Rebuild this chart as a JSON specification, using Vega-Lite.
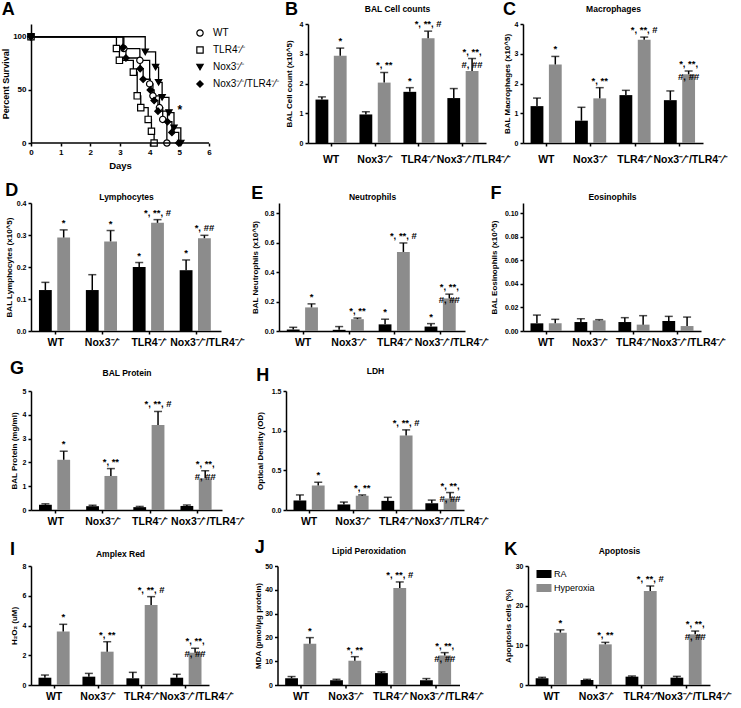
{
"$schema":"https://vega.github.io/schema/vega-lite/v6.json",
"padding":{"left":1,"top":1,"right":0,"bottom":0},
"background":"white",
"config":{
 "font":"Liberation Sans",
 "view":{"stroke":null},
 "title":{"fontSize":18,"fontWeight":"bold","anchor":"start","frame":"bounds","color":"#000","font":"Liberation Sans"},
 "axis":{"grid":false,"domainColor":"#000","domainWidth":1.5,"tickColor":"#000","tickWidth":1.5,"tickSize":3,"labelColor":"#000","titleColor":"#000","labelFontWeight":"bold","titleFontWeight":"bold","labelFont":"Liberation Sans","titleFont":"Liberation Sans","labelOverlap":false},
 "axisY":{"labelFontSize":7,"titleFontSize":8,"labelPadding":2,"labelOverlap":false},
 "legend":{"labelFont":"Liberation Sans","labelColor":"#000"}
},
"datasets":{
 "surv":[
  {"g":"WT","d":0,"s":100},{"g":"WT","d":3.13,"s":88.9},{"g":"WT","d":3.67,"s":77.8},{"g":"WT","d":4.0,"s":55.6},{"g":"WT","d":4.11,"s":44.4},{"g":"WT","d":4.33,"s":33.3},{"g":"WT","d":4.44,"s":22.2},{"g":"WT","d":4.58,"s":0},
  {"g":"T","d":0,"s":100},{"g":"T","d":2.88,"s":88.9},{"g":"T","d":2.98,"s":77.8},{"g":"T","d":3.45,"s":66.7},{"g":"T","d":3.58,"s":44.4},{"g":"T","d":3.7,"s":33.3},{"g":"T","d":3.95,"s":22.2},{"g":"T","d":4.06,"s":11.1},{"g":"T","d":4.15,"s":0},
  {"g":"N","d":0,"s":100},{"g":"N","d":3.85,"s":85.7},{"g":"N","d":4.2,"s":71.4},{"g":"N","d":4.3,"s":57.1},{"g":"N","d":4.42,"s":42.9},{"g":"N","d":4.65,"s":28.6},{"g":"N","d":4.82,"s":14.3},{"g":"N","d":5.05,"s":0},
  {"g":"NT","d":0,"s":100},{"g":"NT","d":3.1,"s":90},{"g":"NT","d":3.2,"s":80},{"g":"NT","d":3.68,"s":70},{"g":"NT","d":3.78,"s":60},{"g":"NT","d":4.02,"s":50},{"g":"NT","d":4.15,"s":40},{"g":"NT","d":4.28,"s":30},{"g":"NT","d":4.6,"s":20},{"g":"NT","d":4.75,"s":10},{"g":"NT","d":4.98,"s":0}
 ],
 "bars":[
  {"p":"B","g":"WT","c":"RA","m":1.46,"hi":1.55,"lab":""},{"p":"B","g":"WT","c":"Hyperoxia","m":2.93,"hi":3.19,"lab":"*"},
  {"p":"B","g":"N","c":"RA","m":0.96,"hi":1.05,"lab":""},{"p":"B","g":"N","c":"Hyperoxia","m":2.03,"hi":2.37,"lab":"*, **"},
  {"p":"B","g":"T","c":"RA","m":1.72,"hi":1.86,"lab":"*"},{"p":"B","g":"T","c":"Hyperoxia","m":3.52,"hi":3.76,"lab":"*, **, #"},
  {"p":"B","g":"NT","c":"RA","m":1.51,"hi":1.83,"lab":""},{"p":"B","g":"NT","c":"Hyperoxia","m":2.42,"hi":2.84,"lab":"*, **,\n#, ##"},
  {"p":"C","g":"WT","c":"RA","m":1.24,"hi":1.51,"lab":""},{"p":"C","g":"WT","c":"Hyperoxia","m":2.64,"hi":2.91,"lab":"*"},
  {"p":"C","g":"N","c":"RA","m":0.75,"hi":1.2,"lab":""},{"p":"C","g":"N","c":"Hyperoxia","m":1.5,"hi":1.86,"lab":"*, **"},
  {"p":"C","g":"T","c":"RA","m":1.61,"hi":1.77,"lab":""},{"p":"C","g":"T","c":"Hyperoxia","m":3.47,"hi":3.56,"lab":"*, **, #"},
  {"p":"C","g":"NT","c":"RA","m":1.44,"hi":1.75,"lab":""},{"p":"C","g":"NT","c":"Hyperoxia","m":2.31,"hi":2.42,"lab":"*, **,\n#, ##"},
  {"p":"D","g":"WT","c":"RA","m":0.128,"hi":0.152,"lab":""},{"p":"D","g":"WT","c":"Hyperoxia","m":0.292,"hi":0.316,"lab":"*"},
  {"p":"D","g":"N","c":"RA","m":0.128,"hi":0.176,"lab":""},{"p":"D","g":"N","c":"Hyperoxia","m":0.28,"hi":0.314,"lab":"*"},
  {"p":"D","g":"T","c":"RA","m":0.2,"hi":0.214,"lab":"*"},{"p":"D","g":"T","c":"Hyperoxia","m":0.338,"hi":0.348,"lab":"*, **, #"},
  {"p":"D","g":"NT","c":"RA","m":0.19,"hi":0.222,"lab":"*"},{"p":"D","g":"NT","c":"Hyperoxia","m":0.29,"hi":0.299,"lab":"*,   ##"},
  {"p":"E","g":"WT","c":"RA","m":0.01,"hi":0.025,"lab":""},{"p":"E","g":"WT","c":"Hyperoxia","m":0.16,"hi":0.184,"lab":"*"},
  {"p":"E","g":"N","c":"RA","m":0.008,"hi":0.03,"lab":""},{"p":"E","g":"N","c":"Hyperoxia","m":0.08,"hi":0.088,"lab":"*, **"},
  {"p":"E","g":"T","c":"RA","m":0.045,"hi":0.08,"lab":"*"},{"p":"E","g":"T","c":"Hyperoxia","m":0.536,"hi":0.597,"lab":"*, **, #"},
  {"p":"E","g":"NT","c":"RA","m":0.03,"hi":0.05,"lab":"*"},{"p":"E","g":"NT","c":"Hyperoxia","m":0.221,"hi":0.25,"lab":"*, **,\n#, ##"},
  {"p":"F","g":"WT","c":"RA","m":0.0065,"hi":0.0135,"lab":""},{"p":"F","g":"WT","c":"Hyperoxia","m":0.0065,"hi":0.0099,"lab":""},
  {"p":"F","g":"N","c":"RA","m":0.0076,"hi":0.0104,"lab":""},{"p":"F","g":"N","c":"Hyperoxia","m":0.009,"hi":0.0096,"lab":""},
  {"p":"F","g":"T","c":"RA","m":0.0076,"hi":0.0113,"lab":""},{"p":"F","g":"T","c":"Hyperoxia","m":0.0054,"hi":0.013,"lab":""},
  {"p":"F","g":"NT","c":"RA","m":0.0085,"hi":0.0124,"lab":""},{"p":"F","g":"NT","c":"Hyperoxia","m":0.0042,"hi":0.0118,"lab":""},
  {"p":"G","g":"WT","c":"RA","m":0.22,"hi":0.26,"lab":""},{"p":"G","g":"WT","c":"Hyperoxia","m":2.11,"hi":2.47,"lab":"*"},
  {"p":"G","g":"N","c":"RA","m":0.16,"hi":0.2,"lab":""},{"p":"G","g":"N","c":"Hyperoxia","m":1.43,"hi":1.74,"lab":"*, **"},
  {"p":"G","g":"T","c":"RA","m":0.12,"hi":0.15,"lab":""},{"p":"G","g":"T","c":"Hyperoxia","m":3.57,"hi":4.14,"lab":"*, **, #"},
  {"p":"G","g":"NT","c":"RA","m":0.17,"hi":0.21,"lab":""},{"p":"G","g":"NT","c":"Hyperoxia","m":1.33,"hi":1.65,"lab":"*, **,\n#, ##"},
  {"p":"H","g":"WT","c":"RA","m":0.12,"hi":0.19,"lab":""},{"p":"H","g":"WT","c":"Hyperoxia","m":0.31,"hi":0.35,"lab":"*"},
  {"p":"H","g":"N","c":"RA","m":0.07,"hi":0.1,"lab":""},{"p":"H","g":"N","c":"Hyperoxia","m":0.18,"hi":0.19,"lab":"*, **"},
  {"p":"H","g":"T","c":"RA","m":0.115,"hi":0.16,"lab":""},{"p":"H","g":"T","c":"Hyperoxia","m":0.94,"hi":1.01,"lab":"*, **, #"},
  {"p":"H","g":"NT","c":"RA","m":0.085,"hi":0.125,"lab":""},{"p":"H","g":"NT","c":"Hyperoxia","m":0.145,"hi":0.22,"lab":"*, **,\n#, ##"},
  {"p":"I","g":"WT","c":"RA","m":0.49,"hi":0.67,"lab":""},{"p":"I","g":"WT","c":"Hyperoxia","m":3.59,"hi":4.08,"lab":"*"},
  {"p":"I","g":"N","c":"RA","m":0.56,"hi":0.78,"lab":""},{"p":"I","g":"N","c":"Hyperoxia","m":2.24,"hi":2.91,"lab":"*, **"},
  {"p":"I","g":"T","c":"RA","m":0.45,"hi":0.85,"lab":""},{"p":"I","g":"T","c":"Hyperoxia","m":5.38,"hi":5.94,"lab":"*, **, #"},
  {"p":"I","g":"NT","c":"RA","m":0.49,"hi":0.72,"lab":""},{"p":"I","g":"NT","c":"Hyperoxia","m":2.17,"hi":2.47,"lab":"*, **,\n#, ##"},
  {"p":"J","g":"WT","c":"RA","m":2.84,"hi":3.55,"lab":""},{"p":"J","g":"WT","c":"Hyperoxia","m":17.3,"hi":19.9,"lab":"*"},
  {"p":"J","g":"N","c":"RA","m":2.0,"hi":2.4,"lab":""},{"p":"J","g":"N","c":"Hyperoxia","m":10.2,"hi":11.9,"lab":"*, **"},
  {"p":"J","g":"T","c":"RA","m":5.0,"hi":5.5,"lab":""},{"p":"J","g":"T","c":"Hyperoxia","m":40.8,"hi":43.3,"lab":"*, **, #"},
  {"p":"J","g":"NT","c":"RA","m":2.0,"hi":2.7,"lab":""},{"p":"J","g":"NT","c":"Hyperoxia","m":12.4,"hi":13.6,"lab":"*, **,\n#, ##"},
  {"p":"K","g":"WT","c":"RA","m":1.68,"hi":1.93,"lab":""},{"p":"K","g":"WT","c":"Hyperoxia","m":13.2,"hi":13.9,"lab":"*"},
  {"p":"K","g":"N","c":"RA","m":1.26,"hi":1.43,"lab":""},{"p":"K","g":"N","c":"Hyperoxia","m":10.25,"hi":10.75,"lab":"*, **"},
  {"p":"K","g":"T","c":"RA","m":2.1,"hi":2.27,"lab":""},{"p":"K","g":"T","c":"Hyperoxia","m":23.7,"hi":24.96,"lab":"*, **, #"},
  {"p":"K","g":"NT","c":"RA","m":1.85,"hi":2.18,"lab":""},{"p":"K","g":"NT","c":"Hyperoxia","m":12.77,"hi":13.6,"lab":"*, **,\n#, ##"}
 ]
},
"columns":1,
"align":"none",
"bounds":"full",
"spacing":12,
"resolve":{"scale":{"color":"independent","shape":"independent","fill":"independent","stroke":"independent"}},
"concat":[
 {"hconcat":[
  {"width":240,"height":119,"title":{"text":"A","offset":5},
   "layer":[
    {"data":{"name":"surv"},"mark":{"type":"line","interpolate":"step-after","color":"#000","strokeWidth":1.3},
     "encoding":{"x":{"field":"d","type":"quantitative","title":"Days","scale":{"domain":[0,8.09],"nice":false},"axis":{"title":"Days","values":[0,1,2,3,4,5,6],"domain":false,"titleX":89,"labelFontSize":8,"titleFontSize":9.5,"labelPadding":2,"titlePadding":4,"labelOverlap":false,"labelFlush":false}},
      "y":{"field":"s","type":"quantitative","title":"Percent Survival","scale":{"domain":[0,112],"nice":false},"axis":{"title":"Percent Survival","values":[0,50,100],"labelFontSize":8,"titleFontSize":9,"titlePadding":2,"labelOverlap":false,"labelFlush":false}},
      "detail":{"field":"g"}}},
    {"data":{"name":"surv"},"mark":{"type":"point","strokeWidth":1.2,"size":40,"opacity":1},
     "encoding":{"x":{"field":"d","type":"quantitative","title":"Days","axis":{"title":"Days","values":[0,1,2,3,4,5,6],"domain":false,"titleX":89,"labelFontSize":8,"titleFontSize":9.5,"labelPadding":2,"titlePadding":4,"labelOverlap":false,"labelFlush":false}},
      "y":{"field":"s","type":"quantitative","title":"Percent Survival","axis":{"title":"Percent Survival","values":[0,50,100],"labelFontSize":8,"titleFontSize":9,"titlePadding":2,"labelOverlap":false,"labelFlush":false}},
      "shape":{"field":"g","type":"nominal","scale":{"domain":["WT","T","N","NT"],"range":["circle","square","triangle-down","diamond"]},"legend":{"orient":"none","legendX":164,"legendY":4,"title":null,"labelExpr":"datum.value == 'N' ? 'Nox3⁻⁄⁻' : datum.value == 'T' ? 'TLR4⁻⁄⁻' : datum.value == 'NT' ? 'Nox3⁻⁄⁻/TLR4⁻⁄⁻' : 'WT'","labelFontSize":10,"labelFontWeight":"normal","rowPadding":5,"labelOffset":8,"padding":0,"symbolStrokeWidth":1.2,"symbolSize":40}},
      "fill":{"field":"g","type":"nominal","scale":{"domain":["WT","T","N","NT"],"range":["#ffffff","#ffffff","#000000","#000000"]},"legend":{"orient":"none","legendX":164,"legendY":4,"title":null,"labelExpr":"datum.value == 'N' ? 'Nox3⁻⁄⁻' : datum.value == 'T' ? 'TLR4⁻⁄⁻' : datum.value == 'NT' ? 'Nox3⁻⁄⁻/TLR4⁻⁄⁻' : 'WT'","labelFontSize":10,"labelFontWeight":"normal","rowPadding":5,"labelOffset":8,"padding":0,"symbolStrokeWidth":1.2,"symbolSize":40}},
      "stroke":{"field":"g","type":"nominal","scale":{"domain":["WT","T","N","NT"],"range":["#000000","#000000","#000000","#000000"]},"legend":{"orient":"none","legendX":164,"legendY":4,"title":null,"labelExpr":"datum.value == 'N' ? 'Nox3⁻⁄⁻' : datum.value == 'T' ? 'TLR4⁻⁄⁻' : datum.value == 'NT' ? 'Nox3⁻⁄⁻/TLR4⁻⁄⁻' : 'WT'","labelFontSize":10,"labelFontWeight":"normal","rowPadding":5,"labelOffset":8,"padding":0,"symbolStrokeWidth":1.2,"symbolSize":40}}}},
    {"data":{"values":[{"a":0,"b":6,"z":0}]},"mark":{"type":"rule","color":"#000","strokeWidth":1.5},
     "encoding":{"x":{"field":"a","type":"quantitative","title":"Days","axis":{"title":"Days","values":[0,1,2,3,4,5,6],"domain":false,"titleX":89,"labelFontSize":8,"titleFontSize":9.5,"labelPadding":2,"titlePadding":4,"labelOverlap":false,"labelFlush":false}},"x2":{"field":"b"},
      "y":{"field":"z","type":"quantitative","title":"Percent Survival","axis":{"title":"Percent Survival","values":[0,50,100],"labelFontSize":8,"titleFontSize":9,"titlePadding":2,"labelOverlap":false,"labelFlush":false}}}},
    {"data":{"values":[{"d":5.02,"s":31,"t":"*"}]},"mark":{"type":"text","fontSize":12,"fontWeight":"bold","color":"#000"},
     "encoding":{"x":{"field":"d","type":"quantitative","title":"Days","axis":{"title":"Days","values":[0,1,2,3,4,5,6],"domain":false,"titleX":89,"labelFontSize":8,"titleFontSize":9.5,"labelPadding":2,"titlePadding":4,"labelOverlap":false,"labelFlush":false}},
      "y":{"field":"s","type":"quantitative","title":"Percent Survival","axis":{"title":"Percent Survival","values":[0,50,100],"labelFontSize":8,"titleFontSize":9,"titlePadding":2,"labelOverlap":false,"labelFlush":false}},"text":{"field":"t"}}}
   ]},
  {"width":178,"height":119,"title":{"text":"B","offset":-15},"data":{"name":"bars"},"transform":[{"filter":"datum.p == 'B'"}],"resolve":{"axis":{"x":"independent"}},
   "encoding":{"xOffset":{"field":"c","type":"nominal","sort":["RA","Hyperoxia"],"scale":{"paddingInner":0.3,"paddingOuter":0.05}}},
   "layer":[
    {"mark":{"type":"bar"},"encoding":{"x":{"field":"g","type":"nominal","sort":["WT","N","T","NT"],"scale":{"paddingInner":0.25,"paddingOuter":0.15},"axis":{"title":null,"labelExpr":"datum.value == 'N' ? 'Nox3⁻⁄⁻' : datum.value == 'T' ? 'TLR4⁻⁄⁻' : datum.value == 'NT' ? 'Nox3⁻⁄⁻/TLR4⁻⁄⁻' : 'WT'","labelOffset":{"condition":{"test":"datum.value == 'NT'","value":11},"value":0},"labelAngle":0,"labelFontSize":10.5,"labelPadding":8,"labelLimit":0,"labelOverlap":false}},
     "y":{"field":"m","type":"quantitative","title":"BAL Cell count (x10^5)","scale":{"domain":[0,4],"nice":false},"axis":{"values":[0,1,2,3,4],"titlePadding":6,"labelOverlap":false,"labelFlush":false}},
     "color":{"field":"c","type":"nominal","scale":{"domain":["RA","Hyperoxia"],"range":["#000000","#8c8c8c"]},"legend":null}}},
    {"mark":{"type":"rule","color":"#000","strokeWidth":1.5},"encoding":{"x":{"field":"g","type":"nominal","sort":["WT","N","T","NT"],"axis":null},"y":{"field":"m","type":"quantitative","title":"BAL Cell count (x10^5)","axis":{"values":[0,1,2,3,4],"titlePadding":6,"labelOverlap":false,"labelFlush":false}},"y2":{"field":"hi"}}},
    {"mark":{"type":"tick","color":"#000","thickness":1.5,"size":8},"encoding":{"x":{"field":"g","type":"nominal","sort":["WT","N","T","NT"],"axis":null},"y":{"field":"hi","type":"quantitative","title":"BAL Cell count (x10^5)","axis":{"values":[0,1,2,3,4],"titlePadding":6,"labelOverlap":false,"labelFlush":false}}}},
    {"transform":[{"filter":"datum.lab != ''"}],"mark":{"type":"text","fontSize":9.5,"fontWeight":"bold","baseline":"bottom","dy":-2,"lineBreak":"\n","lineHeight":13,"color":"#000"},
     "encoding":{"x":{"field":"g","type":"nominal","sort":["WT","N","T","NT"],"axis":{"orient":"top","title":"BAL Cell counts","labels":false,"ticks":false,"domain":false,"titlePadding":11,"titleFontSize":8.5}},"y":{"field":"hi","type":"quantitative","title":"BAL Cell count (x10^5)","axis":{"values":[0,1,2,3,4],"titlePadding":6,"labelOverlap":false,"labelFlush":false}},"text":{"field":"lab"}}}
   ]},
  {"width":180,"height":119,"title":{"text":"C","offset":-15},"data":{"name":"bars"},"transform":[{"filter":"datum.p == 'C'"}],"resolve":{"axis":{"x":"independent"}},
   "encoding":{"xOffset":{"field":"c","type":"nominal","sort":["RA","Hyperoxia"],"scale":{"paddingInner":0.3,"paddingOuter":0.05}}},
   "layer":[
    {"mark":{"type":"bar"},"encoding":{"x":{"field":"g","type":"nominal","sort":["WT","N","T","NT"],"scale":{"paddingInner":0.25,"paddingOuter":0.15},"axis":{"title":null,"labelExpr":"datum.value == 'N' ? 'Nox3⁻⁄⁻' : datum.value == 'T' ? 'TLR4⁻⁄⁻' : datum.value == 'NT' ? 'Nox3⁻⁄⁻/TLR4⁻⁄⁻' : 'WT'","labelOffset":{"condition":{"test":"datum.value == 'NT'","value":11},"value":0},"labelAngle":0,"labelFontSize":10.5,"labelPadding":8,"labelLimit":0,"labelOverlap":false}},
     "y":{"field":"m","type":"quantitative","title":"BAL Macrophages (x10^5)","scale":{"domain":[0,4],"nice":false},"axis":{"values":[0,1,2,3,4],"titlePadding":3,"labelOverlap":false,"labelFlush":false}},
     "color":{"field":"c","type":"nominal","scale":{"domain":["RA","Hyperoxia"],"range":["#000000","#8c8c8c"]},"legend":null}}},
    {"mark":{"type":"rule","color":"#000","strokeWidth":1.5},"encoding":{"x":{"field":"g","type":"nominal","sort":["WT","N","T","NT"],"axis":null},"y":{"field":"m","type":"quantitative","title":"BAL Macrophages (x10^5)","axis":{"values":[0,1,2,3,4],"titlePadding":3,"labelOverlap":false,"labelFlush":false}},"y2":{"field":"hi"}}},
    {"mark":{"type":"tick","color":"#000","thickness":1.5,"size":8},"encoding":{"x":{"field":"g","type":"nominal","sort":["WT","N","T","NT"],"axis":null},"y":{"field":"hi","type":"quantitative","title":"BAL Macrophages (x10^5)","axis":{"values":[0,1,2,3,4],"titlePadding":3,"labelOverlap":false,"labelFlush":false}}}},
    {"transform":[{"filter":"datum.lab != ''"}],"mark":{"type":"text","fontSize":9.5,"fontWeight":"bold","baseline":"bottom","dy":-2,"lineBreak":"\n","lineHeight":13,"color":"#000"},
     "encoding":{"x":{"field":"g","type":"nominal","sort":["WT","N","T","NT"],"axis":{"orient":"top","title":"Macrophages","labels":false,"ticks":false,"domain":false,"titlePadding":11,"titleFontSize":8.5}},"y":{"field":"hi","type":"quantitative","title":"BAL Macrophages (x10^5)","axis":{"values":[0,1,2,3,4],"titlePadding":3,"labelOverlap":false,"labelFlush":false}},"text":{"field":"lab"}}}
   ]}
 ],"spacing":37,"bounds":"flush","resolve":{"scale":{"color":"independent","shape":"independent","fill":"independent","stroke":"independent"}}},
  {"hconcat":[
   {"width":190,"height":128,"title":{"text":"D","offset":-8},"data":{"name":"bars"},"transform":[{"filter":"datum.p == 'D'"}],"resolve":{"axis":{"x":"independent"}},
    "encoding":{"xOffset":{"field":"c","type":"nominal","sort":["RA","Hyperoxia"],"scale":{"paddingInner":0.3,"paddingOuter":0.05}}},
    "layer":[
     {"mark":{"type":"bar"},"encoding":{"x":{"field":"g","type":"nominal","sort":["WT","N","T","NT"],"scale":{"paddingInner":0.25,"paddingOuter":0.15},"axis":{"title":null,"labelExpr":"datum.value == 'N' ? 'Nox3⁻⁄⁻' : datum.value == 'T' ? 'TLR4⁻⁄⁻' : datum.value == 'NT' ? 'Nox3⁻⁄⁻/TLR4⁻⁄⁻' : 'WT'","labelOffset":{"condition":{"test":"datum.value == 'NT'","value":11},"value":0},"labelAngle":0,"labelFontSize":10.5,"labelPadding":3,"labelLimit":0,"labelOverlap":false}},
      "y":{"field":"m","type":"quantitative","title":"BAL Lymphocytes (x10^5)","scale":{"domain":[0,0.4],"nice":false},"axis":{"values":[0,0.1,0.2,0.3,0.4],"format":".1f","titlePadding":3,"labelOverlap":false,"labelFlush":false}},
      "color":{"field":"c","type":"nominal","scale":{"domain":["RA","Hyperoxia"],"range":["#000000","#8c8c8c"]},"legend":null}}},
     {"mark":{"type":"rule","color":"#000","strokeWidth":1.5},"encoding":{"x":{"field":"g","type":"nominal","sort":["WT","N","T","NT"],"axis":null},"y":{"field":"m","type":"quantitative","title":"BAL Lymphocytes (x10^5)","axis":{"values":[0,0.1,0.2,0.3,0.4],"format":".1f","titlePadding":3,"labelOverlap":false,"labelFlush":false}},"y2":{"field":"hi"}}},
     {"mark":{"type":"tick","color":"#000","thickness":1.5,"size":8},"encoding":{"x":{"field":"g","type":"nominal","sort":["WT","N","T","NT"],"axis":null},"y":{"field":"hi","type":"quantitative","title":"BAL Lymphocytes (x10^5)","axis":{"values":[0,0.1,0.2,0.3,0.4],"format":".1f","titlePadding":3,"labelOverlap":false,"labelFlush":false}}}},
     {"transform":[{"filter":"datum.lab != ''"}],"mark":{"type":"text","fontSize":9.5,"fontWeight":"bold","baseline":"bottom","dy":-2,"lineBreak":"\n","lineHeight":13,"color":"#000"},
      "encoding":{"x":{"field":"g","type":"nominal","sort":["WT","N","T","NT"],"axis":{"orient":"top","title":"Lymphocytes","labels":false,"ticks":false,"domain":false,"titlePadding":2,"titleFontSize":8.5}},"y":{"field":"hi","type":"quantitative","title":"BAL Lymphocytes (x10^5)","axis":{"values":[0,0.1,0.2,0.3,0.4],"format":".1f","titlePadding":3,"labelOverlap":false,"labelFlush":false}},"text":{"field":"lab"}}}
    ]},
   {"width":186,"height":128,"title":{"text":"E","offset":-11},"data":{"name":"bars"},"transform":[{"filter":"datum.p == 'E'"}],"resolve":{"axis":{"x":"independent"}},
    "encoding":{"xOffset":{"field":"c","type":"nominal","sort":["RA","Hyperoxia"],"scale":{"paddingInner":0.3,"paddingOuter":0.05}}},
    "layer":[
     {"mark":{"type":"bar"},"encoding":{"x":{"field":"g","type":"nominal","sort":["WT","N","T","NT"],"scale":{"paddingInner":0.25,"paddingOuter":0.15},"axis":{"title":null,"labelExpr":"datum.value == 'N' ? 'Nox3⁻⁄⁻' : datum.value == 'T' ? 'TLR4⁻⁄⁻' : datum.value == 'NT' ? 'Nox3⁻⁄⁻/TLR4⁻⁄⁻' : 'WT'","labelOffset":{"condition":{"test":"datum.value == 'NT'","value":11},"value":0},"labelAngle":0,"labelFontSize":10.5,"labelPadding":3,"labelLimit":0,"labelOverlap":false}},
      "y":{"field":"m","type":"quantitative","title":"BAL Neutrophils (x10^5)","scale":{"domain":[0,0.868],"nice":false},"axis":{"values":[0,0.2,0.4,0.6,0.8],"format":".1f","titlePadding":5,"labelOverlap":false,"labelFlush":false}},
      "color":{"field":"c","type":"nominal","scale":{"domain":["RA","Hyperoxia"],"range":["#000000","#8c8c8c"]},"legend":null}}},
     {"mark":{"type":"rule","color":"#000","strokeWidth":1.5},"encoding":{"x":{"field":"g","type":"nominal","sort":["WT","N","T","NT"],"axis":null},"y":{"field":"m","type":"quantitative","title":"BAL Neutrophils (x10^5)","axis":{"values":[0,0.2,0.4,0.6,0.8],"format":".1f","titlePadding":5,"labelOverlap":false,"labelFlush":false}},"y2":{"field":"hi"}}},
     {"mark":{"type":"tick","color":"#000","thickness":1.5,"size":8},"encoding":{"x":{"field":"g","type":"nominal","sort":["WT","N","T","NT"],"axis":null},"y":{"field":"hi","type":"quantitative","title":"BAL Neutrophils (x10^5)","axis":{"values":[0,0.2,0.4,0.6,0.8],"format":".1f","titlePadding":5,"labelOverlap":false,"labelFlush":false}}}},
     {"transform":[{"filter":"datum.lab != ''"}],"mark":{"type":"text","fontSize":9.5,"fontWeight":"bold","baseline":"bottom","dy":-2,"lineBreak":"\n","lineHeight":13,"color":"#000"},
      "encoding":{"x":{"field":"g","type":"nominal","sort":["WT","N","T","NT"],"axis":{"orient":"top","title":"Neutrophils","labels":false,"ticks":false,"domain":false,"titlePadding":2,"titleFontSize":8.5}},"y":{"field":"hi","type":"quantitative","title":"BAL Neutrophils (x10^5)","axis":{"values":[0,0.2,0.4,0.6,0.8],"format":".1f","titlePadding":5,"labelOverlap":false,"labelFlush":false}},"text":{"field":"lab"}}}
    ]},
   {"width":178,"height":128,"title":{"text":"F","offset":-11},"data":{"name":"bars"},"transform":[{"filter":"datum.p == 'F'"}],"resolve":{"axis":{"x":"independent"}},
    "encoding":{"xOffset":{"field":"c","type":"nominal","sort":["RA","Hyperoxia"],"scale":{"paddingInner":0.3,"paddingOuter":0.05}}},
    "layer":[
     {"mark":{"type":"bar"},"encoding":{"x":{"field":"g","type":"nominal","sort":["WT","N","T","NT"],"scale":{"paddingInner":0.25,"paddingOuter":0.15},"axis":{"title":null,"labelExpr":"datum.value == 'N' ? 'Nox3⁻⁄⁻' : datum.value == 'T' ? 'TLR4⁻⁄⁻' : datum.value == 'NT' ? 'Nox3⁻⁄⁻/TLR4⁻⁄⁻' : 'WT'","labelOffset":{"condition":{"test":"datum.value == 'NT'","value":11},"value":0},"labelAngle":0,"labelFontSize":10.5,"labelPadding":3,"labelLimit":0,"labelOverlap":false}},
      "y":{"field":"m","type":"quantitative","title":"BAL Eosinophils (x10^5)","scale":{"domain":[0,0.1085],"nice":false},"axis":{"values":[0,0.02,0.04,0.06,0.08,0.1],"format":".2f","titlePadding":6,"labelOverlap":false,"labelFlush":false}},
      "color":{"field":"c","type":"nominal","scale":{"domain":["RA","Hyperoxia"],"range":["#000000","#8c8c8c"]},"legend":null}}},
     {"mark":{"type":"rule","color":"#000","strokeWidth":1.5},"encoding":{"x":{"field":"g","type":"nominal","sort":["WT","N","T","NT"],"axis":null},"y":{"field":"m","type":"quantitative","title":"BAL Eosinophils (x10^5)","axis":{"values":[0,0.02,0.04,0.06,0.08,0.1],"format":".2f","titlePadding":6,"labelOverlap":false,"labelFlush":false}},"y2":{"field":"hi"}}},
     {"mark":{"type":"tick","color":"#000","thickness":1.5,"size":8},"encoding":{"x":{"field":"g","type":"nominal","sort":["WT","N","T","NT"],"axis":null},"y":{"field":"hi","type":"quantitative","title":"BAL Eosinophils (x10^5)","axis":{"values":[0,0.02,0.04,0.06,0.08,0.1],"format":".2f","titlePadding":6,"labelOverlap":false,"labelFlush":false}}}},
     {"mark":{"type":"text","fontSize":9.5,"fontWeight":"bold","baseline":"bottom","dy":-2,"color":"#000"},
      "encoding":{"x":{"field":"g","type":"nominal","sort":["WT","N","T","NT"],"axis":{"orient":"top","title":"Eosinophils","labels":false,"ticks":false,"domain":false,"titlePadding":2,"titleFontSize":8.5}},"y":{"field":"hi","type":"quantitative","title":"BAL Eosinophils (x10^5)","axis":{"values":[0,0.02,0.04,0.06,0.08,0.1],"format":".2f","titlePadding":6,"labelOverlap":false,"labelFlush":false}},"text":{"field":"lab"}}}
    ]}
  ],"spacing":58,"bounds":"flush","resolve":{"scale":{"color":"independent"}}},
  {"hconcat":[
   {"width":191,"height":119,"title":{"text":"G","offset":-10},"data":{"name":"bars"},"transform":[{"filter":"datum.p == 'G'"}],"resolve":{"axis":{"x":"independent"}},
    "encoding":{"xOffset":{"field":"c","type":"nominal","sort":["RA","Hyperoxia"],"scale":{"paddingInner":0.3,"paddingOuter":0.05}}},
    "layer":[
     {"mark":{"type":"bar"},"encoding":{"x":{"field":"g","type":"nominal","sort":["WT","N","T","NT"],"scale":{"paddingInner":0.25,"paddingOuter":0.15},"axis":{"title":null,"labelExpr":"datum.value == 'N' ? 'Nox3⁻⁄⁻' : datum.value == 'T' ? 'TLR4⁻⁄⁻' : datum.value == 'NT' ? 'Nox3⁻⁄⁻/TLR4⁻⁄⁻' : 'WT'","labelOffset":{"condition":{"test":"datum.value == 'NT'","value":11},"value":0},"labelAngle":0,"labelFontSize":10.5,"labelPadding":3,"labelLimit":0,"labelOverlap":false}},
      "y":{"field":"m","type":"quantitative","title":"BAL Protein (mg/ml)","scale":{"domain":[0,5],"nice":false},"axis":{"values":[0,1,2,3,4,5],"titlePadding":4,"labelOverlap":false,"labelFlush":false}},
      "color":{"field":"c","type":"nominal","scale":{"domain":["RA","Hyperoxia"],"range":["#000000","#8c8c8c"]},"legend":null}}},
     {"mark":{"type":"rule","color":"#000","strokeWidth":1.5},"encoding":{"x":{"field":"g","type":"nominal","sort":["WT","N","T","NT"],"axis":null},"y":{"field":"m","type":"quantitative","title":"BAL Protein (mg/ml)","axis":{"values":[0,1,2,3,4,5],"titlePadding":4,"labelOverlap":false,"labelFlush":false}},"y2":{"field":"hi"}}},
     {"mark":{"type":"tick","color":"#000","thickness":1.5,"size":8},"encoding":{"x":{"field":"g","type":"nominal","sort":["WT","N","T","NT"],"axis":null},"y":{"field":"hi","type":"quantitative","title":"BAL Protein (mg/ml)","axis":{"values":[0,1,2,3,4,5],"titlePadding":4,"labelOverlap":false,"labelFlush":false}}}},
     {"transform":[{"filter":"datum.lab != ''"}],"mark":{"type":"text","fontSize":9.5,"fontWeight":"bold","baseline":"bottom","dy":-2,"lineBreak":"\n","lineHeight":13,"color":"#000"},
      "encoding":{"x":{"field":"g","type":"nominal","sort":["WT","N","T","NT"],"axis":{"orient":"top","title":"BAL Protein","labels":false,"ticks":false,"domain":false,"titlePadding":14,"titleFontSize":8.5}},"y":{"field":"hi","type":"quantitative","title":"BAL Protein (mg/ml)","axis":{"values":[0,1,2,3,4,5],"titlePadding":4,"labelOverlap":false,"labelFlush":false}},"text":{"field":"lab"}}}
    ]},
   {"width":178,"height":119,"title":{"text":"H","offset":-19},"data":{"name":"bars"},"transform":[{"filter":"datum.p == 'H'"}],"resolve":{"axis":{"x":"independent"}},
    "encoding":{"xOffset":{"field":"c","type":"nominal","sort":["RA","Hyperoxia"],"scale":{"paddingInner":0.3,"paddingOuter":0.05}}},
    "layer":[
     {"mark":{"type":"bar"},"encoding":{"x":{"field":"g","type":"nominal","sort":["WT","N","T","NT"],"scale":{"paddingInner":0.25,"paddingOuter":0.15},"axis":{"title":null,"labelExpr":"datum.value == 'N' ? 'Nox3⁻⁄⁻' : datum.value == 'T' ? 'TLR4⁻⁄⁻' : datum.value == 'NT' ? 'Nox3⁻⁄⁻/TLR4⁻⁄⁻' : 'WT'","labelOffset":{"condition":{"test":"datum.value == 'NT'","value":11},"value":0},"labelAngle":0,"labelFontSize":10.5,"labelPadding":3,"labelLimit":0,"labelOverlap":false}},
      "y":{"field":"m","type":"quantitative","title":"Optical Density (OD)","scale":{"domain":[0,1.5],"nice":false},"axis":{"values":[0,0.5,1,1.5],"format":".1f","titlePadding":7,"labelOverlap":false,"labelFlush":false}},
      "color":{"field":"c","type":"nominal","scale":{"domain":["RA","Hyperoxia"],"range":["#000000","#8c8c8c"]},"legend":null}}},
     {"mark":{"type":"rule","color":"#000","strokeWidth":1.5},"encoding":{"x":{"field":"g","type":"nominal","sort":["WT","N","T","NT"],"axis":null},"y":{"field":"m","type":"quantitative","title":"Optical Density (OD)","axis":{"values":[0,0.5,1,1.5],"format":".1f","titlePadding":7,"labelOverlap":false,"labelFlush":false}},"y2":{"field":"hi"}}},
     {"mark":{"type":"tick","color":"#000","thickness":1.5,"size":8},"encoding":{"x":{"field":"g","type":"nominal","sort":["WT","N","T","NT"],"axis":null},"y":{"field":"hi","type":"quantitative","title":"Optical Density (OD)","axis":{"values":[0,0.5,1,1.5],"format":".1f","titlePadding":7,"labelOverlap":false,"labelFlush":false}}}},
     {"transform":[{"filter":"datum.lab != ''"}],"mark":{"type":"text","fontSize":9.5,"fontWeight":"bold","baseline":"bottom","dy":-2,"lineBreak":"\n","lineHeight":13,"color":"#000"},
      "encoding":{"x":{"field":"g","type":"nominal","sort":["WT","N","T","NT"],"axis":{"orient":"top","title":"LDH","labels":false,"ticks":false,"domain":false,"titlePadding":16,"titleFontSize":8.5}},"y":{"field":"hi","type":"quantitative","title":"Optical Density (OD)","axis":{"values":[0,0.5,1,1.5],"format":".1f","titlePadding":7,"labelOverlap":false,"labelFlush":false}},"text":{"field":"lab"}}}
    ]}
  ],"spacing":64,"bounds":"flush","resolve":{"scale":{"color":"independent"}}},
  {"hconcat":[
   {"width":178,"height":119,"title":{"text":"I","offset":-10},"data":{"name":"bars"},"transform":[{"filter":"datum.p == 'I'"}],"resolve":{"axis":{"x":"independent"}},
    "encoding":{"xOffset":{"field":"c","type":"nominal","sort":["RA","Hyperoxia"],"scale":{"paddingInner":0.3,"paddingOuter":0.05}}},
    "layer":[
     {"mark":{"type":"bar"},"encoding":{"x":{"field":"g","type":"nominal","sort":["WT","N","T","NT"],"scale":{"paddingInner":0.25,"paddingOuter":0.15},"axis":{"title":null,"labelExpr":"datum.value == 'N' ? 'Nox3⁻⁄⁻' : datum.value == 'T' ? 'TLR4⁻⁄⁻' : datum.value == 'NT' ? 'Nox3⁻⁄⁻/TLR4⁻⁄⁻' : 'WT'","labelOffset":{"condition":{"test":"datum.value == 'NT'","value":11},"value":0},"labelAngle":0,"labelFontSize":10.5,"labelPadding":3,"labelLimit":0,"labelOverlap":false}},
      "y":{"field":"m","type":"quantitative","title":"H₂O₂ (uM)","scale":{"domain":[0,8],"nice":false},"axis":{"values":[0,2,4,6,8],"titlePadding":4,"labelOverlap":false,"labelFlush":false}},
      "color":{"field":"c","type":"nominal","scale":{"domain":["RA","Hyperoxia"],"range":["#000000","#8c8c8c"]},"legend":null}}},
     {"mark":{"type":"rule","color":"#000","strokeWidth":1.5},"encoding":{"x":{"field":"g","type":"nominal","sort":["WT","N","T","NT"],"axis":null},"y":{"field":"m","type":"quantitative","title":"H₂O₂ (uM)","axis":{"values":[0,2,4,6,8],"titlePadding":4,"labelOverlap":false,"labelFlush":false}},"y2":{"field":"hi"}}},
     {"mark":{"type":"tick","color":"#000","thickness":1.5,"size":8},"encoding":{"x":{"field":"g","type":"nominal","sort":["WT","N","T","NT"],"axis":null},"y":{"field":"hi","type":"quantitative","title":"H₂O₂ (uM)","axis":{"values":[0,2,4,6,8],"titlePadding":4,"labelOverlap":false,"labelFlush":false}}}},
     {"transform":[{"filter":"datum.lab != ''"}],"mark":{"type":"text","fontSize":9.5,"fontWeight":"bold","baseline":"bottom","dy":-2,"lineBreak":"\n","lineHeight":13,"color":"#000"},
      "encoding":{"x":{"field":"g","type":"nominal","sort":["WT","N","T","NT"],"axis":{"orient":"top","title":"Amplex Red","labels":false,"ticks":false,"domain":false,"titlePadding":8,"titleFontSize":8.5}},"y":{"field":"hi","type":"quantitative","title":"H₂O₂ (uM)","axis":{"values":[0,2,4,6,8],"titlePadding":4,"labelOverlap":false,"labelFlush":false}},"text":{"field":"lab"}}}
    ]},
   {"width":182,"height":119,"title":{"text":"J","offset":-11},"data":{"name":"bars"},"transform":[{"filter":"datum.p == 'J'"}],"resolve":{"axis":{"x":"independent"}},
    "encoding":{"xOffset":{"field":"c","type":"nominal","sort":["RA","Hyperoxia"],"scale":{"paddingInner":0.3,"paddingOuter":0.05}}},
    "layer":[
     {"mark":{"type":"bar"},"encoding":{"x":{"field":"g","type":"nominal","sort":["WT","N","T","NT"],"scale":{"paddingInner":0.25,"paddingOuter":0.15},"axis":{"title":null,"labelExpr":"datum.value == 'N' ? 'Nox3⁻⁄⁻' : datum.value == 'T' ? 'TLR4⁻⁄⁻' : datum.value == 'NT' ? 'Nox3⁻⁄⁻/TLR4⁻⁄⁻' : 'WT'","labelOffset":{"condition":{"test":"datum.value == 'NT'","value":11},"value":0},"labelAngle":0,"labelFontSize":10.5,"labelPadding":3,"labelLimit":0,"labelOverlap":false}},
      "y":{"field":"m","type":"quantitative","title":"MDA (pmol/μg protein)","scale":{"domain":[0,50],"nice":false},"axis":{"values":[0,10,20,30,40,50],"titlePadding":2,"labelOverlap":false,"labelFlush":false}},
      "color":{"field":"c","type":"nominal","scale":{"domain":["RA","Hyperoxia"],"range":["#000000","#8c8c8c"]},"legend":null}}},
     {"mark":{"type":"rule","color":"#000","strokeWidth":1.5},"encoding":{"x":{"field":"g","type":"nominal","sort":["WT","N","T","NT"],"axis":null},"y":{"field":"m","type":"quantitative","title":"MDA (pmol/μg protein)","axis":{"values":[0,10,20,30,40,50],"titlePadding":2,"labelOverlap":false,"labelFlush":false}},"y2":{"field":"hi"}}},
     {"mark":{"type":"tick","color":"#000","thickness":1.5,"size":8},"encoding":{"x":{"field":"g","type":"nominal","sort":["WT","N","T","NT"],"axis":null},"y":{"field":"hi","type":"quantitative","title":"MDA (pmol/μg protein)","axis":{"values":[0,10,20,30,40,50],"titlePadding":2,"labelOverlap":false,"labelFlush":false}}}},
     {"transform":[{"filter":"datum.lab != ''"}],"mark":{"type":"text","fontSize":9.5,"fontWeight":"bold","baseline":"bottom","dy":-2,"lineBreak":"\n","lineHeight":13,"color":"#000"},
      "encoding":{"x":{"field":"g","type":"nominal","sort":["WT","N","T","NT"],"axis":{"orient":"top","title":"Lipid Peroxidation","labels":false,"ticks":false,"domain":false,"titlePadding":11,"titleFontSize":8.5}},"y":{"field":"hi","type":"quantitative","title":"MDA (pmol/μg protein)","axis":{"values":[0,10,20,30,40,50],"titlePadding":2,"labelOverlap":false,"labelFlush":false}},"text":{"field":"lab"}}}
    ]},
   {"width":182,"height":119,"title":{"text":"K","offset":-13},"data":{"name":"bars"},"transform":[{"filter":"datum.p == 'K'"}],"resolve":{"axis":{"x":"independent"}},
    "encoding":{"xOffset":{"field":"c","type":"nominal","sort":["RA","Hyperoxia"],"scale":{"paddingInner":0.3,"paddingOuter":0.05}}},
    "layer":[
     {"mark":{"type":"bar"},"encoding":{"x":{"field":"g","type":"nominal","sort":["WT","N","T","NT"],"scale":{"paddingInner":0.25,"paddingOuter":0.15},"axis":{"title":null,"labelExpr":"datum.value == 'N' ? 'Nox3⁻⁄⁻' : datum.value == 'T' ? 'TLR4⁻⁄⁻' : datum.value == 'NT' ? 'Nox3⁻⁄⁻/TLR4⁻⁄⁻' : 'WT'","labelOffset":{"condition":{"test":"datum.value == 'NT'","value":8},"value":0},"labelAngle":0,"labelFontSize":10.5,"labelPadding":3,"labelLimit":0,"labelOverlap":false}},
      "y":{"field":"m","type":"quantitative","title":"Apoptosis cells (%)","scale":{"domain":[0,30],"nice":false},"axis":{"values":[0,10,20,30],"titlePadding":3,"labelOverlap":false,"labelFlush":false}},
      "color":{"field":"c","type":"nominal","scale":{"domain":["RA","Hyperoxia"],"range":["#000000","#8c8c8c"]},"legend":{"orient":"none","legendX":11,"legendY":3,"title":null,"symbolType":"M-1.5,-0.8H1.5V0.8H-1.5Z","symbolSize":100,"symbolStrokeWidth":0,"labelFontSize":9,"labelFontWeight":"normal","rowPadding":4,"labelOffset":5,"padding":0}}}},
     {"mark":{"type":"rule","color":"#000","strokeWidth":1.5},"encoding":{"x":{"field":"g","type":"nominal","sort":["WT","N","T","NT"],"axis":null},"y":{"field":"m","type":"quantitative","title":"Apoptosis cells (%)","axis":{"values":[0,10,20,30],"titlePadding":3,"labelOverlap":false,"labelFlush":false}},"y2":{"field":"hi"}}},
     {"mark":{"type":"tick","color":"#000","thickness":1.5,"size":8},"encoding":{"x":{"field":"g","type":"nominal","sort":["WT","N","T","NT"],"axis":null},"y":{"field":"hi","type":"quantitative","title":"Apoptosis cells (%)","axis":{"values":[0,10,20,30],"titlePadding":3,"labelOverlap":false,"labelFlush":false}}}},
     {"transform":[{"filter":"datum.lab != ''"}],"mark":{"type":"text","fontSize":9.5,"fontWeight":"bold","baseline":"bottom","dy":-2,"lineBreak":"\n","lineHeight":13,"color":"#000"},
      "encoding":{"x":{"field":"g","type":"nominal","sort":["WT","N","T","NT"],"axis":{"orient":"top","title":"Apoptosis","labels":false,"ticks":false,"domain":false,"titlePadding":11,"titleFontSize":8.5}},"y":{"field":"hi","type":"quantitative","title":"Apoptosis cells (%)","axis":{"values":[0,10,20,30],"titlePadding":3,"labelOverlap":false,"labelFlush":false}},"text":{"field":"lab"}}}
    ]}
  ],"spacing":68.5,"bounds":"flush","resolve":{"scale":{"color":"independent"}}}
]
}
